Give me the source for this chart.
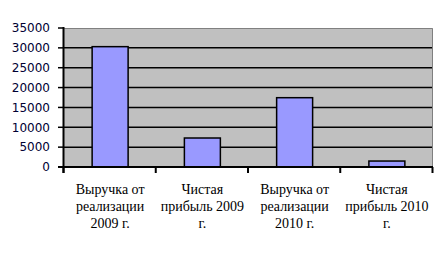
<!DOCTYPE html>
<html>
<head>
<meta charset="utf-8">
<script src="https://cdn.jsdelivr.net/npm/d3@7"></script>
<style>
  body { margin: 0; background: #fff; }
</style>
</head>
<body>
<script>
// Chart data
const categories = [
  ["Выручка от", "реализации", "2009 г."],
  ["Чистая", "прибыль 2009", "г."],
  ["Выручка от", "реализации", "2010 г."],
  ["Чистая", "прибыль 2010", "г."]
];
const values = [30300, 7300, 17450, 1500];
const yTicks = [0, 5000, 10000, 15000, 20000, 25000, 30000, 35000];

const width = 439;
const height = 255;
const margins = { left: 64, right: 6, top: 28, bottom: 88 };

const xScale = d3
  .scaleBand()
  .domain(d3.range(categories.length))
  .range([margins.left, width - margins.right]);

const yScale = d3
  .scaleLinear()
  .domain([0, 35000])
  .range([height - margins.bottom, margins.top]);

const svg = d3
  .select("body")
  .append("svg")
  .attr("width", width)
  .attr("height", height);

// Plot background
svg
  .append("rect")
  .attr("x", margins.left)
  .attr("y", margins.top)
  .attr("width", width - margins.left - margins.right)
  .attr("height", height - margins.top - margins.bottom)
  .attr("fill", "#c0c0c0");

// Top and right border
svg
  .append("path")
  .attr(
    "d",
    `M${margins.left},${margins.top + 0.5}H${width - margins.right - 0.5}V${height - margins.bottom}`
  )
  .attr("fill", "none")
  .attr("stroke", "#808080")
  .attr("stroke-width", 1);

// Gridlines
svg
  .append("g")
  .selectAll("line")
  .data(yTicks.filter((d) => d > 0 && d < 35000))
  .join("line")
  .attr("x1", margins.left)
  .attr("x2", width - margins.right - 1)
  .attr("y1", (d) => yScale(d))
  .attr("y2", (d) => yScale(d))
  .attr("stroke", "black")
  .attr("stroke-width", 1.5);

// Bars
const barWidth = xScale.bandwidth() * 0.39;
svg
  .append("g")
  .selectAll("rect")
  .data(values)
  .join("rect")
  .attr("x", (d, i) => xScale(i) + (xScale.bandwidth() - barWidth) / 2)
  .attr("y", (d) => yScale(d))
  .attr("width", barWidth)
  .attr("height", (d) => yScale(0) - yScale(d))
  .attr("fill", "#9999ff")
  .attr("stroke", "black")
  .attr("stroke-width", 1.5);

// Y axis
const yAxis = svg.append("g");
yAxis
  .append("line")
  .attr("x1", margins.left - 0.5)
  .attr("x2", margins.left - 0.5)
  .attr("y1", margins.top - 1)
  .attr("y2", yScale(0) + 6)
  .attr("stroke", "black")
  .attr("stroke-width", 2);
yAxis
  .selectAll(".tick")
  .data(yTicks)
  .join("line")
  .attr("x1", margins.left - 6)
  .attr("x2", margins.left)
  .attr("y1", (d) => yScale(d))
  .attr("y2", (d) => yScale(d))
  .attr("stroke", "black")
  .attr("stroke-width", 1.5);
yAxis
  .selectAll("text")
  .data(yTicks)
  .join("text")
  .attr("x", 50)
  .attr("y", (d) => yScale(d))
  .attr("dy", "0.36em")
  .attr("text-anchor", "end")
  .attr("font-family", "'DejaVu Sans', Verdana, sans-serif")
  .attr("font-size", "12px")
  .attr("fill", "#000033")
  .text((d) => d);

// X axis
const xAxis = svg.append("g");
xAxis
  .append("line")
  .attr("x1", margins.left - 6)
  .attr("x2", width - margins.right)
  .attr("y1", yScale(0))
  .attr("y2", yScale(0))
  .attr("stroke", "black")
  .attr("stroke-width", 2);
xAxis
  .selectAll(".tick")
  .data(d3.range(categories.length + 1))
  .join("line")
  .attr("x1", (i) => (i < categories.length ? xScale(i) : width - margins.right) - 0.5)
  .attr("x2", (i) => (i < categories.length ? xScale(i) : width - margins.right) - 0.5)
  .attr("y1", yScale(0))
  .attr("y2", yScale(0) + 6)
  .attr("stroke", "black")
  .attr("stroke-width", 2);

// Category labels
const labels = xAxis
  .selectAll(".label")
  .data(categories)
  .join("text")
  .attr("text-anchor", "middle")
  .attr("font-family", "'Liberation Serif', 'Times New Roman', serif")
  .attr("font-size", "14px")
  .attr("fill", "black");
labels
  .selectAll("tspan")
  .data((d, i) => d.map((t) => ({ t, i })))
  .join("tspan")
  .attr("x", (d) => xScale(d.i) + xScale.bandwidth() / 2)
  .attr("y", (d, j) => 194 + j * 16.8)
  .text((d) => d.t);
</script>
</body>
</html>
